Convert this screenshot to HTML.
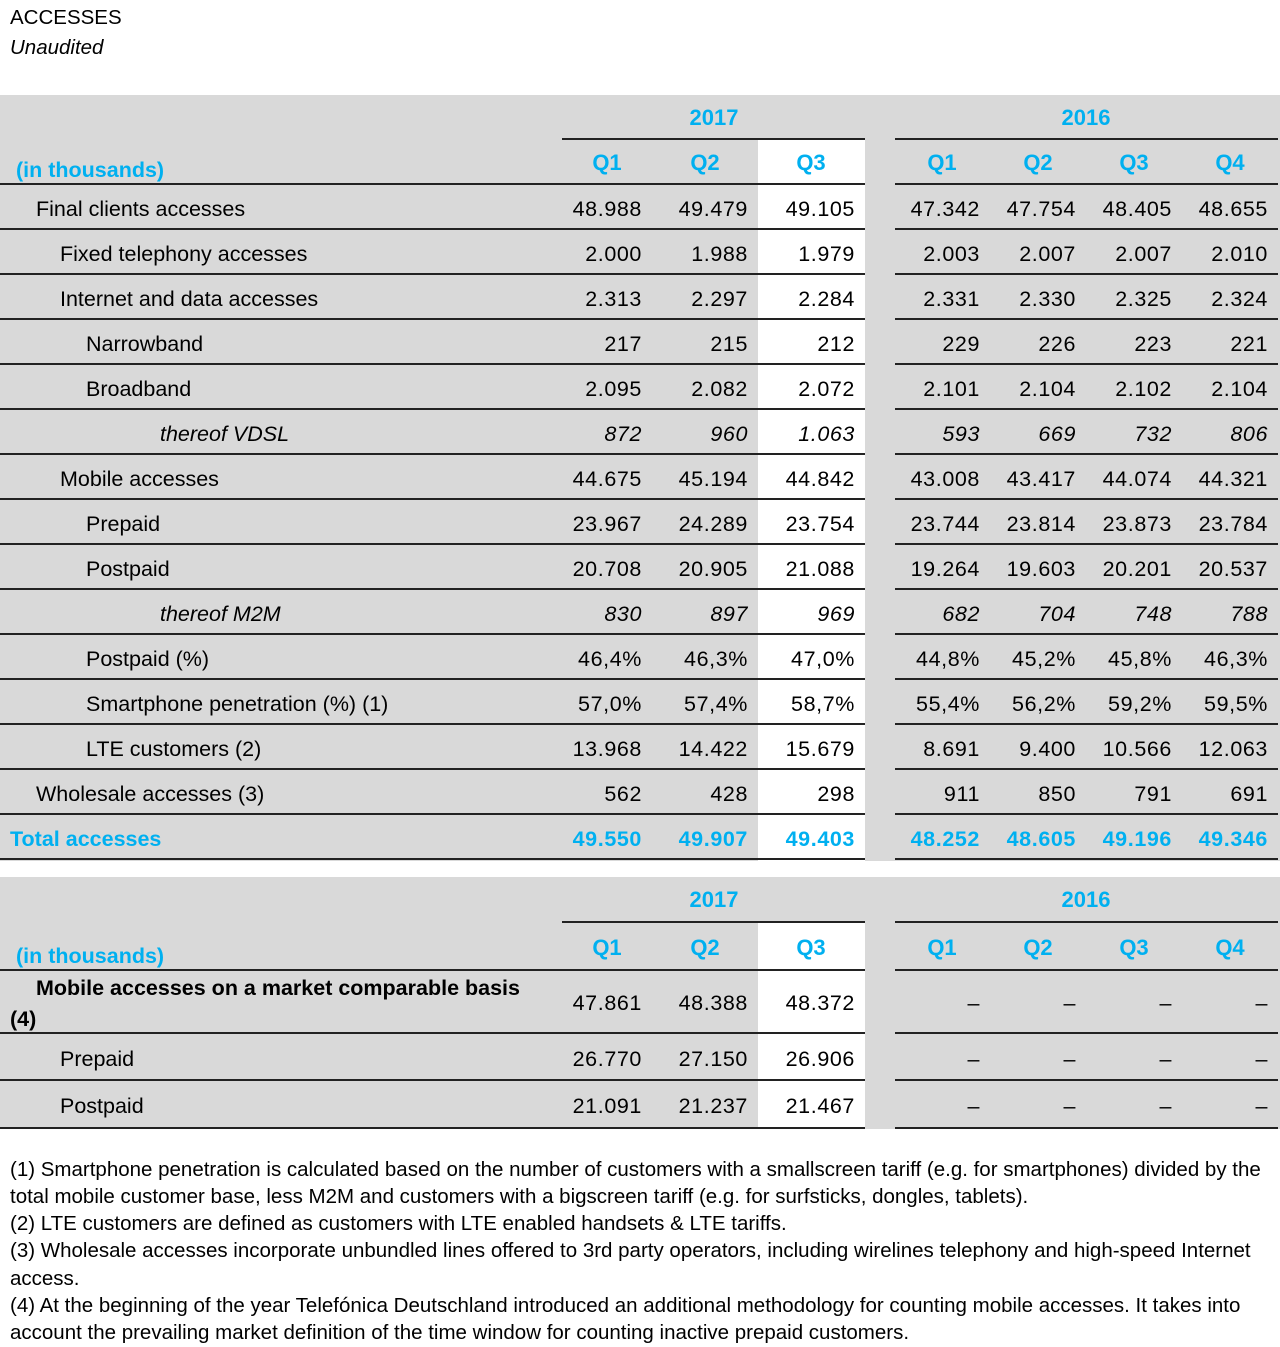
<!DOCTYPE html>
<html><head><meta charset="utf-8"><style>
body{margin:0;width:1280px;height:1347px;background:#fff;position:relative;font-family:"Liberation Sans",sans-serif;color:#000;overflow:hidden}
.g{position:absolute;background:#d9d9d9}
.w{position:absolute;background:#fff}
.l{position:absolute;height:2px;background:#222}
.t{position:absolute;font-size:21.5px;line-height:24px;white-space:nowrap}
.v{position:absolute;font-size:21.5px;line-height:24px;white-space:nowrap;text-align:right;width:110px;letter-spacing:0.6px}
.b{color:#00b0f0;font-weight:bold}
.i{font-style:italic}
.h{position:absolute;font-size:22px;line-height:24px;font-weight:bold;color:#00b0f0;text-align:center;width:100px}
.fn{position:absolute;left:10px;font-size:20.5px;line-height:27px;white-space:nowrap}
</style></head><body>
<div class="t" style="left:10px;top:6px;font-size:20.5px">ACCESSES</div>
<div class="t i" style="left:10px;top:36px;font-size:20.5px">Unaudited</div>

<div class="g" style="left:0;top:95px;width:1280px;height:766px"></div>
<div class="w" style="left:758px;top:140px;width:107px;height:721px"></div>
<div class="g" style="left:0;top:877px;width:1280px;height:252px"></div>
<div class="w" style="left:758px;top:923px;width:107px;height:206px"></div>

<div class="l" style="left:562px;top:138px;width:303px"></div>
<div class="l" style="left:895px;top:138px;width:383px"></div>
<div class="h" style="left:664px;top:106px">2017</div>
<div class="h" style="left:1036px;top:106px">2016</div>
<div class="t b" style="left:16px;top:158px">(in thousands)</div>
<div class="h" style="left:557px;top:151px">Q1</div>
<div class="h" style="left:655px;top:151px">Q2</div>
<div class="h" style="left:761px;top:151px">Q3</div>
<div class="h" style="left:892px;top:151px">Q1</div>
<div class="h" style="left:988px;top:151px">Q2</div>
<div class="h" style="left:1084px;top:151px">Q3</div>
<div class="h" style="left:1180px;top:151px">Q4</div>

<div class="l" style="left:0;top:183px;width:865px"></div><div class="l" style="left:895px;top:183px;width:383px"></div>
<div class="l" style="left:0;top:228px;width:865px"></div><div class="l" style="left:895px;top:228px;width:383px"></div>
<div class="l" style="left:0;top:273px;width:865px"></div><div class="l" style="left:895px;top:273px;width:383px"></div>
<div class="l" style="left:0;top:318px;width:865px"></div><div class="l" style="left:895px;top:318px;width:383px"></div>
<div class="l" style="left:0;top:363px;width:865px"></div><div class="l" style="left:895px;top:363px;width:383px"></div>
<div class="l" style="left:0;top:408px;width:865px"></div><div class="l" style="left:895px;top:408px;width:383px"></div>
<div class="l" style="left:0;top:453px;width:865px"></div><div class="l" style="left:895px;top:453px;width:383px"></div>
<div class="l" style="left:0;top:498px;width:865px"></div><div class="l" style="left:895px;top:498px;width:383px"></div>
<div class="l" style="left:0;top:543px;width:865px"></div><div class="l" style="left:895px;top:543px;width:383px"></div>
<div class="l" style="left:0;top:588px;width:865px"></div><div class="l" style="left:895px;top:588px;width:383px"></div>
<div class="l" style="left:0;top:633px;width:865px"></div><div class="l" style="left:895px;top:633px;width:383px"></div>
<div class="l" style="left:0;top:678px;width:865px"></div><div class="l" style="left:895px;top:678px;width:383px"></div>
<div class="l" style="left:0;top:723px;width:865px"></div><div class="l" style="left:895px;top:723px;width:383px"></div>
<div class="l" style="left:0;top:768px;width:865px"></div><div class="l" style="left:895px;top:768px;width:383px"></div>
<div class="l" style="left:0;top:813px;width:865px"></div><div class="l" style="left:895px;top:813px;width:383px"></div>
<div class="l" style="left:0;top:858px;width:865px"></div><div class="l" style="left:895px;top:858px;width:383px"></div>

<div class="t" style="left:36px;top:197px">Final clients accesses</div>
<div class="v" style="left:532px;top:197px">48.988</div><div class="v" style="left:638px;top:197px">49.479</div><div class="v" style="left:745px;top:197px">49.105</div><div class="v" style="left:870px;top:197px">47.342</div><div class="v" style="left:966px;top:197px">47.754</div><div class="v" style="left:1062px;top:197px">48.405</div><div class="v" style="left:1158px;top:197px">48.655</div>

<div class="t" style="left:60px;top:242px">Fixed telephony accesses</div>
<div class="v" style="left:532px;top:242px">2.000</div><div class="v" style="left:638px;top:242px">1.988</div><div class="v" style="left:745px;top:242px">1.979</div><div class="v" style="left:870px;top:242px">2.003</div><div class="v" style="left:966px;top:242px">2.007</div><div class="v" style="left:1062px;top:242px">2.007</div><div class="v" style="left:1158px;top:242px">2.010</div>

<div class="t" style="left:60px;top:287px">Internet and data accesses</div>
<div class="v" style="left:532px;top:287px">2.313</div><div class="v" style="left:638px;top:287px">2.297</div><div class="v" style="left:745px;top:287px">2.284</div><div class="v" style="left:870px;top:287px">2.331</div><div class="v" style="left:966px;top:287px">2.330</div><div class="v" style="left:1062px;top:287px">2.325</div><div class="v" style="left:1158px;top:287px">2.324</div>

<div class="t" style="left:86px;top:332px">Narrowband</div>
<div class="v" style="left:532px;top:332px">217</div><div class="v" style="left:638px;top:332px">215</div><div class="v" style="left:745px;top:332px">212</div><div class="v" style="left:870px;top:332px">229</div><div class="v" style="left:966px;top:332px">226</div><div class="v" style="left:1062px;top:332px">223</div><div class="v" style="left:1158px;top:332px">221</div>

<div class="t" style="left:86px;top:377px">Broadband</div>
<div class="v" style="left:532px;top:377px">2.095</div><div class="v" style="left:638px;top:377px">2.082</div><div class="v" style="left:745px;top:377px">2.072</div><div class="v" style="left:870px;top:377px">2.101</div><div class="v" style="left:966px;top:377px">2.104</div><div class="v" style="left:1062px;top:377px">2.102</div><div class="v" style="left:1158px;top:377px">2.104</div>

<div class="t i" style="left:160px;top:422px">thereof VDSL</div>
<div class="v i" style="left:532px;top:422px">872</div><div class="v i" style="left:638px;top:422px">960</div><div class="v i" style="left:745px;top:422px">1.063</div><div class="v i" style="left:870px;top:422px">593</div><div class="v i" style="left:966px;top:422px">669</div><div class="v i" style="left:1062px;top:422px">732</div><div class="v i" style="left:1158px;top:422px">806</div>

<div class="t" style="left:60px;top:467px">Mobile accesses</div>
<div class="v" style="left:532px;top:467px">44.675</div><div class="v" style="left:638px;top:467px">45.194</div><div class="v" style="left:745px;top:467px">44.842</div><div class="v" style="left:870px;top:467px">43.008</div><div class="v" style="left:966px;top:467px">43.417</div><div class="v" style="left:1062px;top:467px">44.074</div><div class="v" style="left:1158px;top:467px">44.321</div>

<div class="t" style="left:86px;top:512px">Prepaid</div>
<div class="v" style="left:532px;top:512px">23.967</div><div class="v" style="left:638px;top:512px">24.289</div><div class="v" style="left:745px;top:512px">23.754</div><div class="v" style="left:870px;top:512px">23.744</div><div class="v" style="left:966px;top:512px">23.814</div><div class="v" style="left:1062px;top:512px">23.873</div><div class="v" style="left:1158px;top:512px">23.784</div>

<div class="t" style="left:86px;top:557px">Postpaid</div>
<div class="v" style="left:532px;top:557px">20.708</div><div class="v" style="left:638px;top:557px">20.905</div><div class="v" style="left:745px;top:557px">21.088</div><div class="v" style="left:870px;top:557px">19.264</div><div class="v" style="left:966px;top:557px">19.603</div><div class="v" style="left:1062px;top:557px">20.201</div><div class="v" style="left:1158px;top:557px">20.537</div>

<div class="t i" style="left:160px;top:602px">thereof M2M</div>
<div class="v i" style="left:532px;top:602px">830</div><div class="v i" style="left:638px;top:602px">897</div><div class="v i" style="left:745px;top:602px">969</div><div class="v i" style="left:870px;top:602px">682</div><div class="v i" style="left:966px;top:602px">704</div><div class="v i" style="left:1062px;top:602px">748</div><div class="v i" style="left:1158px;top:602px">788</div>

<div class="t" style="left:86px;top:647px">Postpaid (%)</div>
<div class="v" style="left:532px;top:647px">46,4%</div><div class="v" style="left:638px;top:647px">46,3%</div><div class="v" style="left:745px;top:647px">47,0%</div><div class="v" style="left:870px;top:647px">44,8%</div><div class="v" style="left:966px;top:647px">45,2%</div><div class="v" style="left:1062px;top:647px">45,8%</div><div class="v" style="left:1158px;top:647px">46,3%</div>

<div class="t" style="left:86px;top:692px">Smartphone penetration (%) (1)</div>
<div class="v" style="left:532px;top:692px">57,0%</div><div class="v" style="left:638px;top:692px">57,4%</div><div class="v" style="left:745px;top:692px">58,7%</div><div class="v" style="left:870px;top:692px">55,4%</div><div class="v" style="left:966px;top:692px">56,2%</div><div class="v" style="left:1062px;top:692px">59,2%</div><div class="v" style="left:1158px;top:692px">59,5%</div>

<div class="t" style="left:86px;top:737px">LTE customers (2)</div>
<div class="v" style="left:532px;top:737px">13.968</div><div class="v" style="left:638px;top:737px">14.422</div><div class="v" style="left:745px;top:737px">15.679</div><div class="v" style="left:870px;top:737px">8.691</div><div class="v" style="left:966px;top:737px">9.400</div><div class="v" style="left:1062px;top:737px">10.566</div><div class="v" style="left:1158px;top:737px">12.063</div>

<div class="t" style="left:36px;top:782px">Wholesale accesses (3)</div>
<div class="v" style="left:532px;top:782px">562</div><div class="v" style="left:638px;top:782px">428</div><div class="v" style="left:745px;top:782px">298</div><div class="v" style="left:870px;top:782px">911</div><div class="v" style="left:966px;top:782px">850</div><div class="v" style="left:1062px;top:782px">791</div><div class="v" style="left:1158px;top:782px">691</div>

<div class="t b" style="left:10px;top:827px">Total accesses</div>
<div class="v b" style="left:532px;top:827px">49.550</div><div class="v b" style="left:638px;top:827px">49.907</div><div class="v b" style="left:745px;top:827px">49.403</div><div class="v b" style="left:870px;top:827px">48.252</div><div class="v b" style="left:966px;top:827px">48.605</div><div class="v b" style="left:1062px;top:827px">49.196</div><div class="v b" style="left:1158px;top:827px">49.346</div>

<div class="l" style="left:562px;top:921px;width:303px"></div>
<div class="l" style="left:895px;top:921px;width:383px"></div>
<div class="h" style="left:664px;top:888px">2017</div>
<div class="h" style="left:1036px;top:888px">2016</div>
<div class="t b" style="left:16px;top:944px">(in thousands)</div>
<div class="h" style="left:557px;top:936px">Q1</div>
<div class="h" style="left:655px;top:936px">Q2</div>
<div class="h" style="left:761px;top:936px">Q3</div>
<div class="h" style="left:892px;top:936px">Q1</div>
<div class="h" style="left:988px;top:936px">Q2</div>
<div class="h" style="left:1084px;top:936px">Q3</div>
<div class="h" style="left:1180px;top:936px">Q4</div>
<div class="l" style="left:0;top:969px;width:865px"></div><div class="l" style="left:895px;top:969px;width:383px"></div>
<div class="l" style="left:0;top:1032px;width:865px"></div><div class="l" style="left:895px;top:1032px;width:383px"></div>
<div class="l" style="left:0;top:1079px;width:865px"></div><div class="l" style="left:895px;top:1079px;width:383px"></div>
<div class="l" style="left:0;top:1127px;width:865px"></div><div class="l" style="left:895px;top:1127px;width:383px"></div>

<div class="t" style="left:36px;top:976px;font-weight:bold">Mobile accesses on a market comparable basis</div>
<div class="t" style="left:10px;top:1007px;font-weight:bold">(4)</div>
<div class="v" style="left:532px;top:991px">47.861</div><div class="v" style="left:638px;top:991px">48.388</div><div class="v" style="left:745px;top:991px">48.372</div><div class="v" style="left:870px;top:991px">–</div><div class="v" style="left:966px;top:991px">–</div><div class="v" style="left:1062px;top:991px">–</div><div class="v" style="left:1158px;top:991px">–</div>

<div class="t" style="left:60px;top:1047px">Prepaid</div>
<div class="v" style="left:532px;top:1047px">26.770</div><div class="v" style="left:638px;top:1047px">27.150</div><div class="v" style="left:745px;top:1047px">26.906</div><div class="v" style="left:870px;top:1047px">–</div><div class="v" style="left:966px;top:1047px">–</div><div class="v" style="left:1062px;top:1047px">–</div><div class="v" style="left:1158px;top:1047px">–</div>

<div class="t" style="left:60px;top:1094px">Postpaid</div>
<div class="v" style="left:532px;top:1094px">21.091</div><div class="v" style="left:638px;top:1094px">21.237</div><div class="v" style="left:745px;top:1094px">21.467</div><div class="v" style="left:870px;top:1094px">–</div><div class="v" style="left:966px;top:1094px">–</div><div class="v" style="left:1062px;top:1094px">–</div><div class="v" style="left:1158px;top:1094px">–</div>

<div class="fn" style="top:1156px">(1) Smartphone penetration is calculated based on the number of customers with a smallscreen tariff (e.g. for smartphones) divided by the</div>
<div class="fn" style="top:1183px">total mobile customer base, less M2M and customers with a bigscreen tariff (e.g. for surfsticks, dongles, tablets).</div>
<div class="fn" style="top:1210px">(2) LTE customers are defined as customers with LTE enabled handsets &amp; LTE tariffs.</div>
<div class="fn" style="top:1237px">(3) Wholesale accesses incorporate unbundled lines offered to 3rd party operators, including wirelines telephony and high-speed Internet</div>
<div class="fn" style="top:1265px">access.</div>
<div class="fn" style="top:1292px">(4) At the beginning of the year Telefónica Deutschland introduced an additional methodology for counting mobile accesses. It takes into</div>
<div class="fn" style="top:1319px">account the prevailing market definition of the time window for counting inactive prepaid customers.</div>
</body></html>
